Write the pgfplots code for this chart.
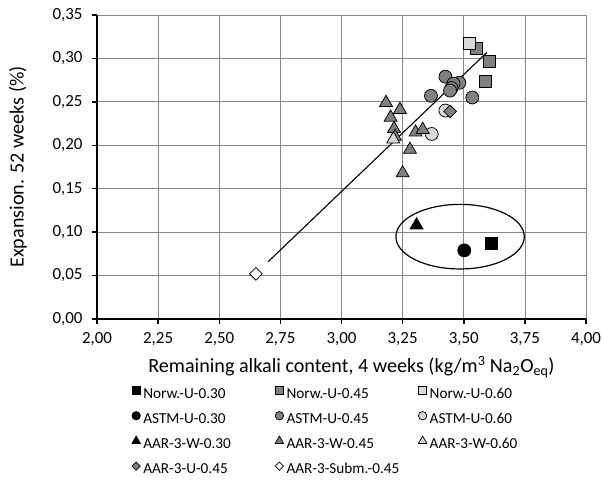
\documentclass[border=0pt]{standalone}
\usepackage{pgfplots}
\pgfplotsset{compat=1.18}
\usepackage{fontspec}
\setmainfont{Carlito}
\definecolor{gdark}{RGB}{128,128,128}
\definecolor{glight}{RGB}{217,217,217}
\definecolor{gridc}{RGB}{134,134,134}
\pgfplotsset{
 mk/.style={only marks, draw=black, line width=0.75bp,
   legend image code/.code={\draw[##1] plot coordinates {(0bp,0bp)};}},
}
\newcommand{\legtxt}[1]{\makebox[129bp][l]{\rule[-7.3bp]{0pt}{24.3bp}#1}}
\begin{document}
\begin{tikzpicture}
\path[use as bounding box] (-97bp,-162bp) rectangle (505bp,319bp);
\begin{axis}[
 scale only axis, width=489bp, height=304bp,
 xmin=2, xmax=4, ymin=0, ymax=0.35,
 xtick={2,2.25,2.5,2.75,3,3.25,3.5,3.75,4},
 ytick={0,0.05,0.1,0.15,0.2,0.25,0.3,0.35},
 axis lines*=left,
 axis line style={line width=2.2bp, black},
 tick align=outside, major tick length=5bp,
 tick style={line width=1.5bp, black},
 grid=major, major grid style={gridc, line width=0.75bp},
 /pgf/number format/fixed, /pgf/number format/fixed zerofill,
 /pgf/number format/precision=2, /pgf/number format/use comma,
 /pgf/number format/assume math mode=true,
 ticklabel style={font=\fontsize{17}{20}\selectfont},
 xticklabel style={yshift=-5bp},
 yticklabel style={xshift=-6bp},
 xlabel={Remaining alkali content, 4 weeks (kg/m\textsuperscript{3} Na\textsubscript{2}O\textsubscript{eq})},
 ylabel={Expansion. 52 weeks (\%)},
 label style={font=\fontsize{20.2}{24}\selectfont},
 xlabel style={at={(axis description cs:0.5204,-0.158)}, anchor=center},
 ylabel style={at={(axis description cs:-0.1616,0.5)}, anchor=center},
 legend columns=3,
 legend cell align=left,
 legend style={draw=none, fill=none, inner sep=0pt, outer sep=0pt,
   at={(axis description cs:0.0715,-0.205)}, anchor=north west,
   font=\fontsize{15.3}{18}\selectfont, row sep=6.7bp,
   nodes={inner xsep=2.9bp, inner ysep=0pt}},
 legend image post style={every mark/.append style={scale=0.65}},
]
\addplot[mk, mark=square*, mark size=6, fill=black] coordinates {(3.614,0.087)};
\addlegendentry{\legtxt{Norw.-U-0.30}}
\addplot[mk, mark=square*, mark size=6, fill=gdark] coordinates {(3.553,0.312) (3.605,0.297) (3.589,0.274)};
\addlegendentry{\legtxt{Norw.-U-0.45}}
\addplot[mk, mark=square*, mark size=6, fill=glight] coordinates {(3.523,0.317)};
\addlegendentry{\legtxt{Norw.-U-0.60}}
\addplot[mk, mark=*, mark size=6.5, fill=black] coordinates {(3.502,0.079)};
\addlegendentry{\legtxt{ASTM-U-0.30}}
\addplot[mk, mark=*, mark size=6.5, fill=gdark] coordinates {(3.425,0.279) (3.482,0.272) (3.458,0.271) (3.450,0.266) (3.444,0.263) (3.366,0.257) (3.535,0.255)};
\addlegendentry{\legtxt{ASTM-U-0.45}}
\addplot[mk, mark=*, mark size=6.5, fill=glight] coordinates {(3.425,0.240) (3.369,0.213)};
\addlegendentry{\legtxt{ASTM-U-0.60}}
\addplot[mk, mark=triangle*, mark size=7.5, fill=black] coordinates {(3.307,0.108)};
\addlegendentry{\legtxt{AAR-3-W-0.30}}
\addplot[mk, mark=triangle*, mark size=7.5, fill=gdark] coordinates {(3.182,0.249) (3.239,0.241) (3.201,0.232) (3.215,0.219) (3.219,0.210) (3.303,0.215) (3.332,0.218) (3.280,0.195) (3.250,0.168)};
\addlegendentry{\legtxt{AAR-3-W-0.45}}
\addplot[mk, mark=triangle*, mark size=7.5, fill=glight] coordinates {(3.212,0.207)};
\addlegendentry{\legtxt{AAR-3-W-0.60}}
\addplot[mk, mark=square*, mark size=4.5, mark options={rotate=45}, fill=gdark] coordinates {(3.444,0.239)};
\addlegendentry{\legtxt{AAR-3-U-0.45}}
\addplot[mk, mark=square*, mark size=4.5, mark options={rotate=45}, fill=white] coordinates {(2.65,0.052)};
\addlegendentry{\legtxt{AAR-3-Subm.-0.45}}
\addplot[black, line width=1.1bp, forget plot] coordinates {(2.70,0.066) (3.595,0.307)};
\draw[line width=1.2bp] (axis cs:3.485,0.0948) ellipse [x radius=64.2bp, y radius=32.3bp];
\end{axis}
\end{tikzpicture}
\end{document}
